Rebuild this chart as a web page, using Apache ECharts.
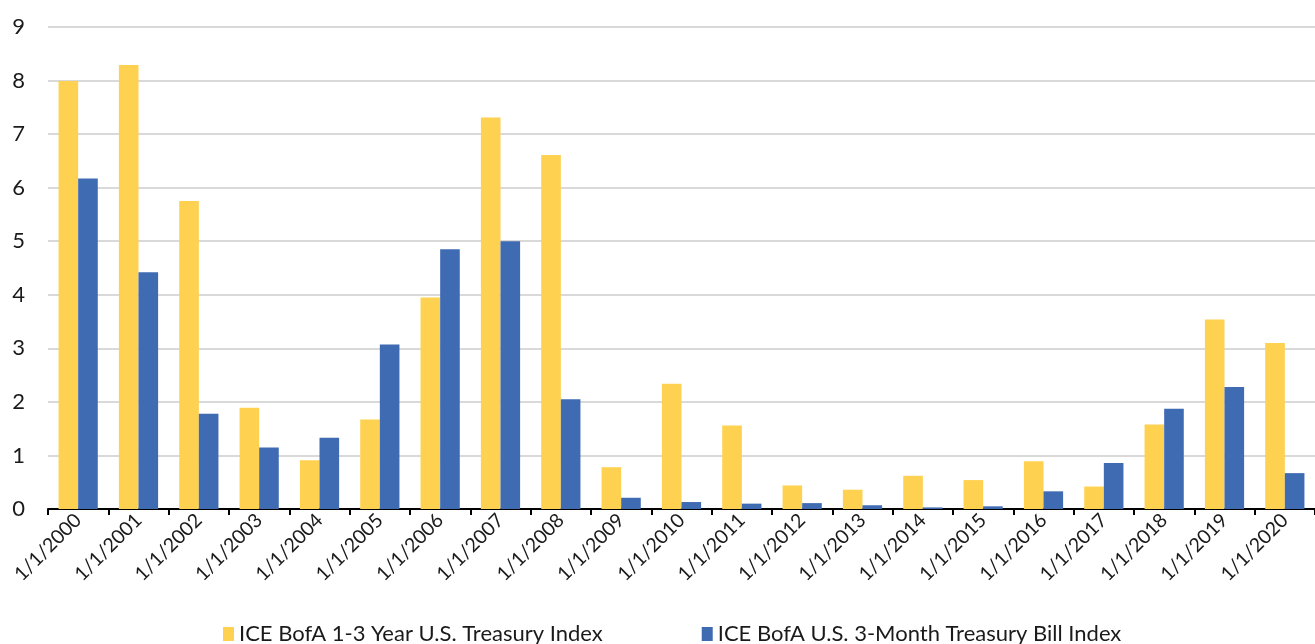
<!DOCTYPE html>
<html>
<head>
<meta charset="utf-8">
<script src="https://cdn.jsdelivr.net/npm/echarts@6/dist/echarts.min.js"></script>
<style>
  html, body { margin: 0; padding: 0; background: #fff; }
  #chart { width: 1315px; height: 644px; }
</style>
</head>
<body>
<div id="chart"></div>
<script>
// years on the x axis
const years = [
  "1/1/2000", "1/1/2001", "1/1/2002", "1/1/2003", "1/1/2004", "1/1/2005",
  "1/1/2006", "1/1/2007", "1/1/2008", "1/1/2009", "1/1/2010", "1/1/2011",
  "1/1/2012", "1/1/2013", "1/1/2014", "1/1/2015", "1/1/2016", "1/1/2017",
  "1/1/2018", "1/1/2019", "1/1/2020"
];

const treasury13Name = "ICE BofA 1-3 Year U.S. Treasury Index";
const treasury13 = [
  7.99, 8.29, 5.75, 1.89, 0.91, 1.67, 3.95, 7.31, 6.61, 0.78, 2.34,
  1.56, 0.44, 0.36, 0.62, 0.54, 0.89, 0.42, 1.58, 3.54, 3.10
];

const tbill3mName = "ICE BofA U.S. 3-Month Treasury Bill Index";
const tbill3m = [
  6.17, 4.42, 1.78, 1.15, 1.33, 3.07, 4.85, 5.00, 2.05, 0.21, 0.13,
  0.10, 0.11, 0.07, 0.03, 0.05, 0.33, 0.86, 1.87, 2.28, 0.67
];

const chart = echarts.init(document.getElementById("chart"));

const option = {
  animation: false,
  textStyle: { fontFamily: "Lato" },
  grid: { left: 48, right: 0, top: 27, bottom: 135, containLabel: false },
  legend: {
    left: 218,
    top: 618,
    itemWidth: 11,
    itemHeight: 14,
    itemGap: 99,
    icon: "rect",
    textStyle: { fontSize: 22, color: "#1a1a1a", fontFamily: "Lato" },
    data: [treasury13Name, tbill3mName]
  },
  xAxis: {
    type: "category",
    data: years,
    axisLine: { lineStyle: { color: "#000", width: 2 } },
    axisTick: { show: true, length: 6, lineStyle: { color: "#000", width: 2 } },
    axisLabel: {
      interval: 0,
      rotate: 45,
      fontSize: 19.5,
      color: "#1a1a1a",
      margin: 8
    }
  },
  yAxis: {
    type: "value",
    min: 0,
    max: 9,
    interval: 1,
    axisLine: { show: false },
    axisTick: { show: false },
    axisLabel: { fontSize: 22, color: "#1a1a1a", margin: 23 },
    splitLine: { lineStyle: { color: "#d9d9d9", width: 2 } }
  },
  series: [
    {
      name: treasury13Name,
      type: "bar",
      data: treasury13,
      barGap: "0%",
      barCategoryGap: "35%",
      itemStyle: { color: "#FFD150" }
    },
    {
      name: tbill3mName,
      type: "bar",
      data: tbill3m,
      itemStyle: { color: "#3F6BB3" }
    }
  ]
};

chart.setOption(option);
</script>
</body>
</html>
